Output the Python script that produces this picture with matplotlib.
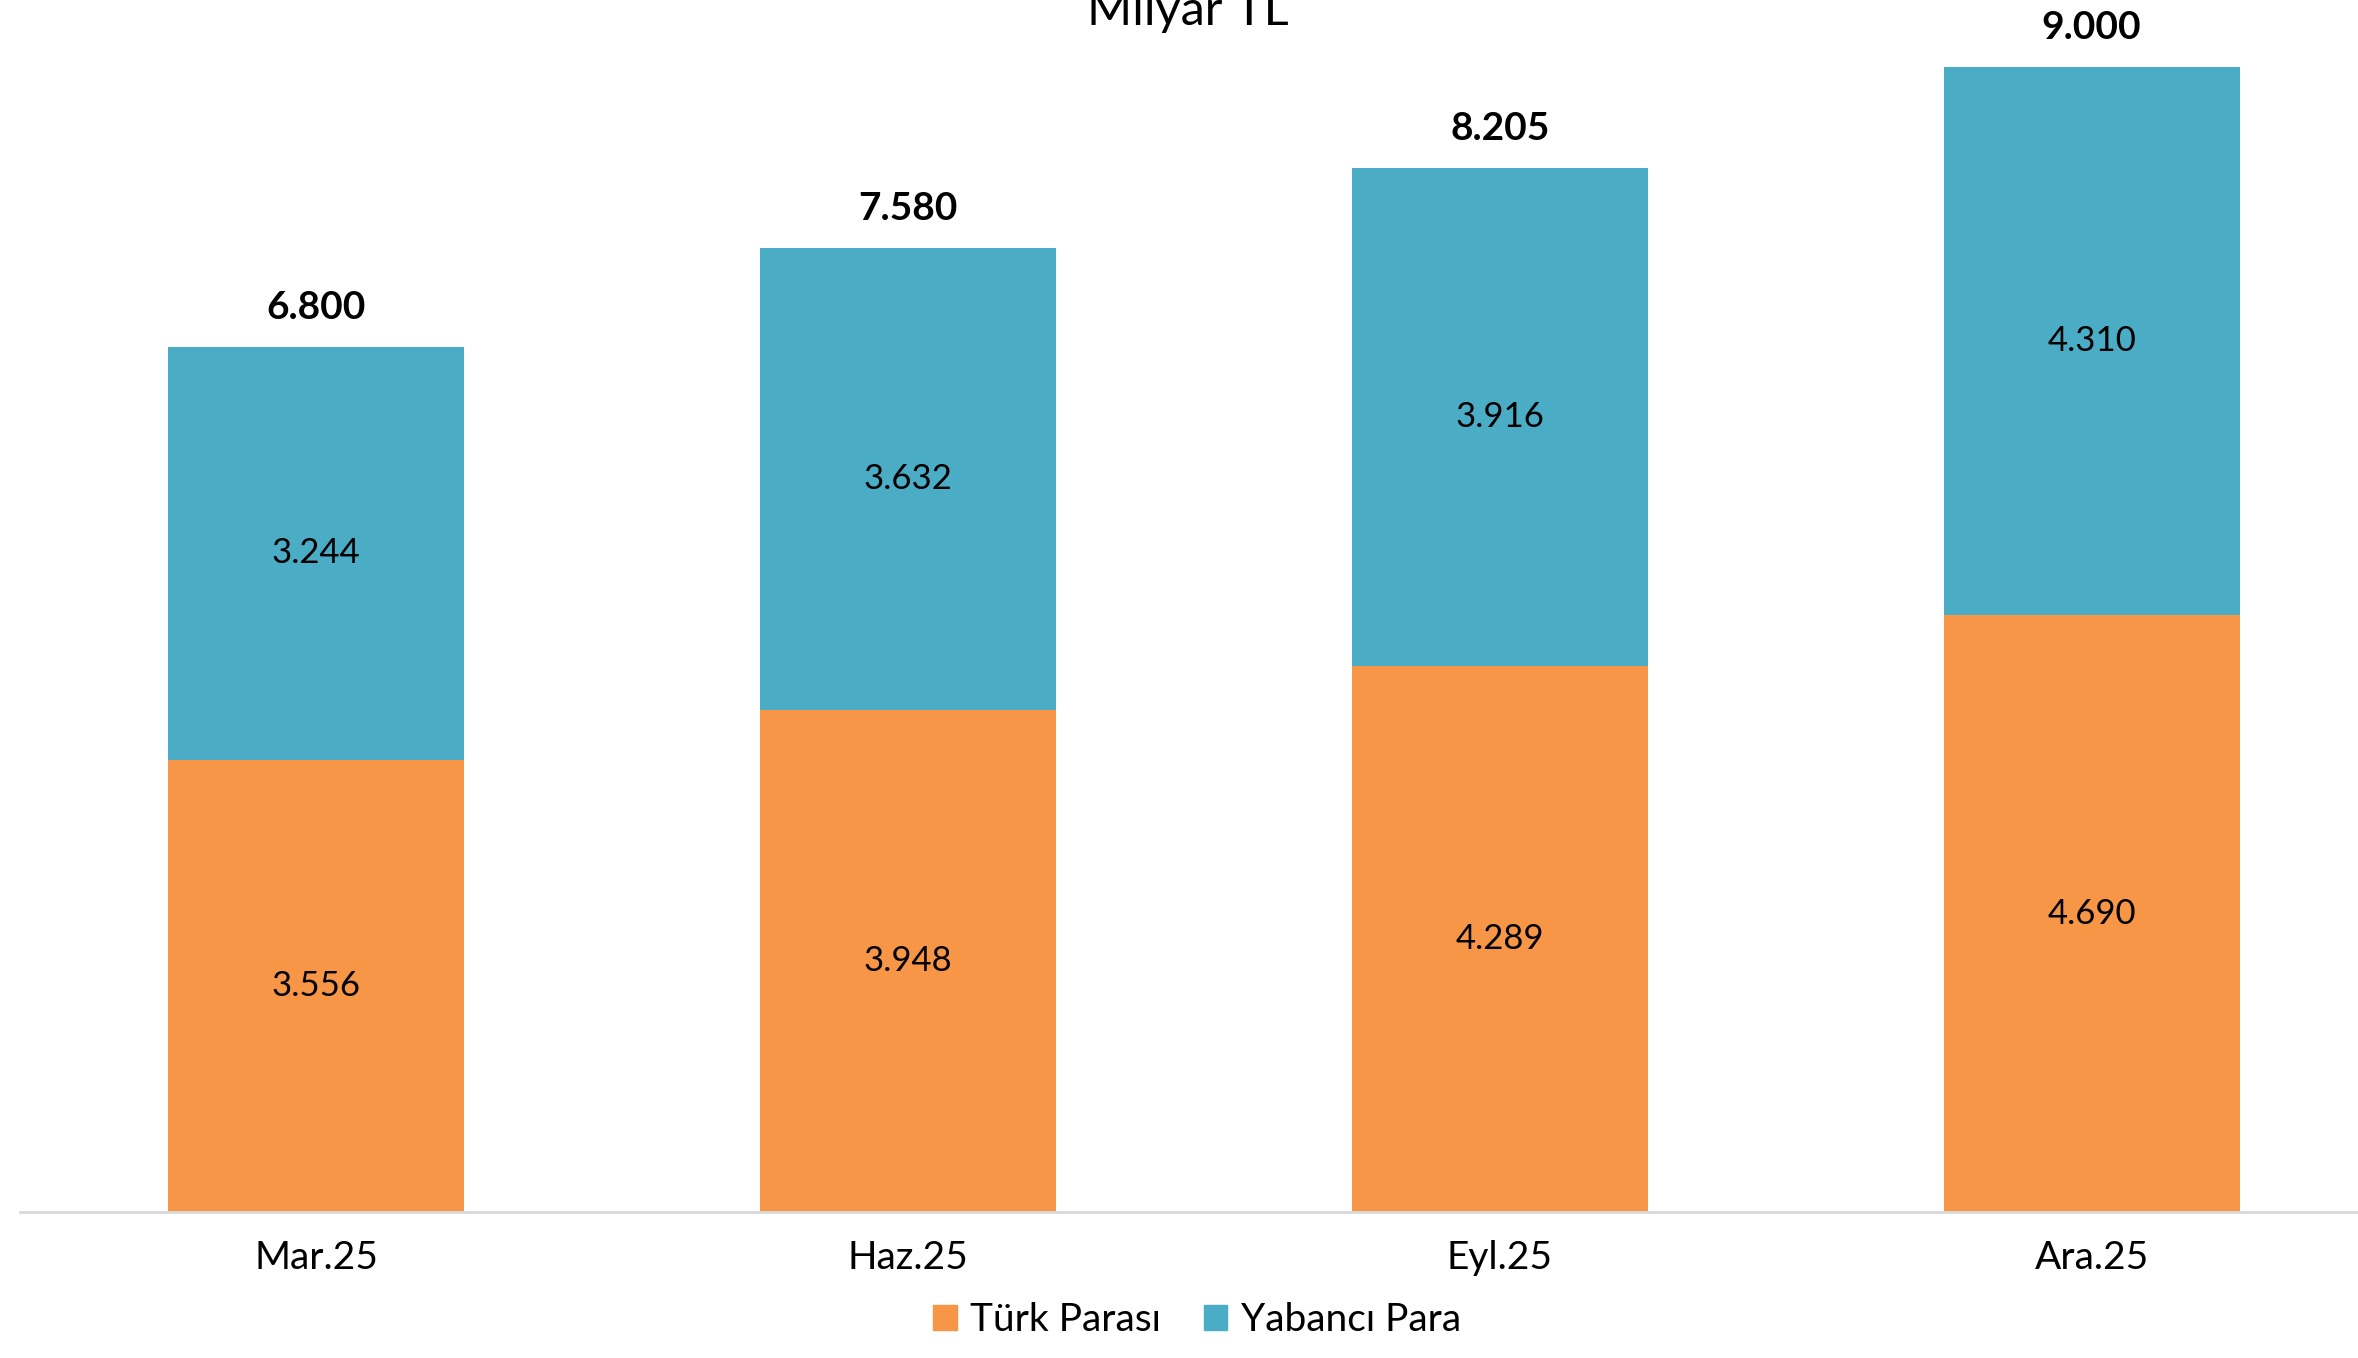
import matplotlib
matplotlib.use("Agg")
import matplotlib.pyplot as plt
from matplotlib.patches import Patch

# Milyar TL, stacked by currency
donemler = ["Mar.25", "Haz.25", "Eyl.25", "Ara.25"]
turk_parasi = [3556, 3948, 4289, 4690]
yabanci_para = [3244, 3632, 3916, 4310]
toplam = [6800, 7580, 8205, 9000]

TP_COLOR = "#F79646"
YP_COLOR = "#4BACC6"

plt.rcParams["font.family"] = ["Lato", "DejaVu Sans"]


def fmt(v):
    return f"{v:,}".replace(",", ".")


W, H = 2358, 1358
fig = plt.figure(figsize=(W / 100, H / 100), dpi=100)
# axes spans from the baseline (y=1212px) up to the top edge of the image
ax = fig.add_axes([20 / W, 1 - 1212 / H, 1 - 20 / W, 1212 / H])

x = list(range(len(donemler)))
ax.bar(x, turk_parasi, width=0.5, color=TP_COLOR, label="Türk Parası")
ax.bar(x, yabanci_para, width=0.5, bottom=turk_parasi, color=YP_COLOR,
       label="Yabancı Para")

for i in x:
    ax.text(i, turk_parasi[i] / 2, fmt(turk_parasi[i]), ha="center",
            va="center", fontsize=25)
    ax.text(i, turk_parasi[i] + yabanci_para[i] / 2, fmt(yabanci_para[i]),
            ha="center", va="center", fontsize=25)
    ax.annotate(fmt(toplam[i]), (i, toplam[i]), xytext=(0, 28),
                textcoords="offset pixels", ha="center", va="baseline",
                fontsize=28, fontweight="bold")

ax.set_xlim(-0.5, 3.45)
ax.set_ylim(0, 9528)
ax.set_yticks([])
ax.set_xticks(x)
ax.set_xticklabels(donemler, fontsize=28)
ax.tick_params(axis="x", length=0, pad=20)
for s in ["top", "right", "left"]:
    ax.spines[s].set_visible(False)
ax.spines["bottom"].set_color("#D9D9D9")
ax.spines["bottom"].set_linewidth(2)

# title sits partly above the image edge, as in the source
fig.text(1188 / W, 1 - 25 / H, "Milyar TL", ha="center", va="baseline",
         fontsize=35)

handles = [Patch(color=TP_COLOR, label="Türk Parası"),
           Patch(color=YP_COLOR, label="Yabancı Para")]
fig.legend(handles=handles, loc="center", bbox_to_anchor=(1197 / W, 1 - 1320 / H),
           ncol=2, frameon=False, fontsize=28, handlelength=0.6, handleheight=0.6,
           handletextpad=0.35, columnspacing=1.1)

fig.savefig("out.png", dpi=100)
